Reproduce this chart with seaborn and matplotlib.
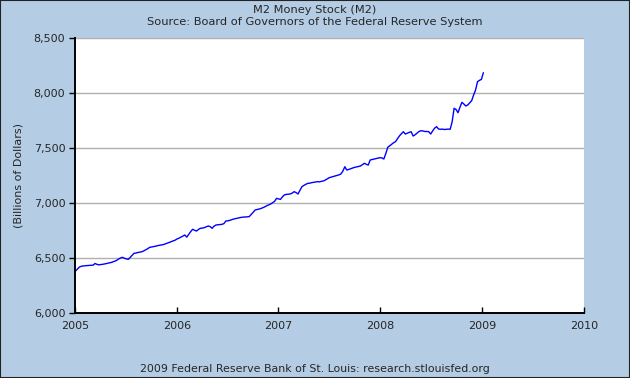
import pandas as pd
import matplotlib
matplotlib.use("Agg")
import matplotlib.pyplot as plt
import matplotlib.dates as mdates
from matplotlib.ticker import FuncFormatter
from matplotlib.patches import Rectangle
import seaborn as sns

# Weekly M2 values (billions of dollars), Jan 3 2005 .. Jan 5 2009
start_date = "2005-01-03"
m2_values = [
    6382, 6400, 6418, 6425, 6428, 6430, 6431, 6433, 6432, 6435,
    6450, 6442, 6438, 6440, 6443, 6446, 6450, 6455, 6458, 6464,
    6470, 6478, 6490, 6500, 6506, 6498, 6492, 6488, 6505, 6525,
    6543, 6545, 6550, 6553, 6557, 6565, 6575, 6585, 6597, 6600,
    6603, 6607, 6612, 6615, 6618, 6622, 6628, 6635, 6642, 6648,
    6655, 6662, 6673, 6680, 6690, 6700, 6709, 6690, 6715, 6740,
    6761, 6752, 6745, 6760, 6770, 6772, 6776, 6784, 6791, 6785,
    6770, 6790, 6800, 6802, 6804, 6806, 6812, 6836, 6838, 6842,
    6848, 6854, 6858, 6862, 6866, 6870, 6872, 6873, 6874, 6876,
    6895, 6915, 6936, 6940, 6945, 6950, 6957, 6965, 6975, 6983,
    6991, 7003, 7015, 7042, 7038, 7033, 7055, 7073, 7078, 7080,
    7082, 7090, 7103, 7095, 7082, 7115, 7148, 7160, 7170, 7179,
    7180, 7185, 7188, 7190, 7194, 7192, 7197, 7200, 7209, 7220,
    7230, 7235, 7239, 7245, 7250, 7256, 7264, 7290, 7330, 7300,
    7305, 7312, 7318, 7324, 7328, 7332, 7336, 7348, 7361, 7352,
    7345, 7391, 7395, 7398, 7402, 7406, 7412, 7410, 7400, 7450,
    7506, 7520, 7535, 7548, 7558, 7585, 7610, 7630, 7648, 7627,
    7635, 7642, 7648, 7609, 7620, 7635, 7650, 7657, 7655, 7650,
    7650, 7648, 7627, 7655, 7680, 7694, 7673, 7670, 7672, 7668,
    7670, 7672, 7670, 7739, 7861, 7850, 7821, 7870, 7915, 7900,
    7882, 7891, 7910, 7930, 7982, 8027, 8103, 8115, 8124, 8185,
]
y_ticks = [6000, 6500, 7000, 7500, 8000, 8500]
x_years = [2005, 2006, 2007, 2008, 2009, 2010]

title = "M2 Money Stock (M2)"
subtitle = "Source: Board of Governors of the Federal Reserve System"
footer = "2009 Federal Reserve Bank of St. Louis: research.stlouisfed.org"

df = pd.DataFrame({
    "date": pd.date_range(start_date, periods=len(m2_values), freq="7D"),
    "m2": m2_values,
})

bg = "#b4cce4"
sns.set_style("white")
plt.rcParams["font.family"] = ["DejaVu Sans"]

fig = plt.figure(figsize=(6.3, 3.78), dpi=100, facecolor=bg)
ax = fig.add_axes([75 / 630, 1 - 313 / 378, (584 - 75) / 630, (313 - 38) / 378])
ax.set_facecolor("white")

sns.lineplot(data=df, x="date", y="m2", ax=ax, color="#0000ff", linewidth=1.0)

ax.set_ylim(6000, 8500)
ax.set_yticks(y_ticks)
ax.yaxis.set_major_formatter(FuncFormatter(lambda v, p: f"{int(v):,}"))
ax.set_xlim(pd.Timestamp(f"{x_years[0]}-01-01"), pd.Timestamp(f"{x_years[-1]}-01-01"))
ax.set_xticks([pd.Timestamp(f"{y}-01-01") for y in x_years])
ax.xaxis.set_major_formatter(mdates.DateFormatter("%Y"))

ax.grid(axis="y", color="#b0b0b0", linewidth=1)
ax.grid(axis="x", visible=False)
ax.set_axisbelow(True)

for side in ["top", "right"]:
    ax.spines[side].set_visible(False)
for side in ["left", "bottom"]:
    ax.spines[side].set_color("black")
    ax.spines[side].set_linewidth(1.4)

ax.tick_params(axis="y", direction="out", length=4, width=1, color="black",
               labelsize=8, pad=3, left=True)
ax.tick_params(axis="x", direction="in", length=4, width=1, color="black",
               labelsize=8, pad=6, bottom=True)

ax.set_xlabel("")
ax.set_ylabel("(Billions of Dollars)", fontsize=8, labelpad=7)

fig.text(0.5, 1 - 10 / 378, title, ha="center", va="center", fontsize=8.2)
fig.text(0.5, 1 - 22 / 378, subtitle, ha="center", va="center", fontsize=8.2)
fig.text(0.5, 1 - 369 / 378, footer, ha="center", va="center", fontsize=7.9)

fig.patches.append(Rectangle((0, 0), 1, 1, transform=fig.transFigure, fill=False,
                             edgecolor="#222222", linewidth=1.5))

fig.savefig("out.png", dpi=100, facecolor=bg)
